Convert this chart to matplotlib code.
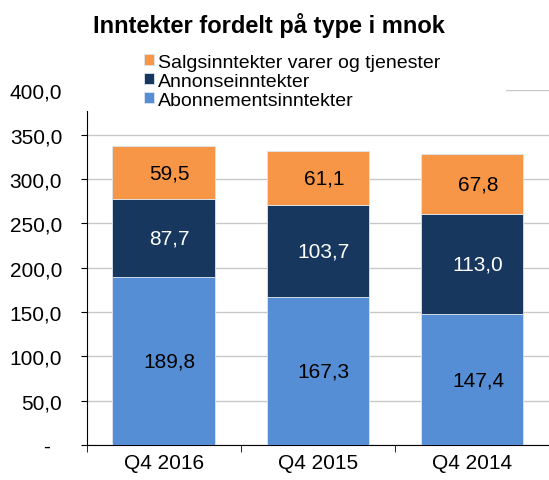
import matplotlib.pyplot as plt
from matplotlib.patches import Rectangle
import numpy as np

plt.rcParams['font.family'] = ['Liberation Sans', 'DejaVu Sans']

categories = ['Q4 2016', 'Q4 2015', 'Q4 2014']
abonnement = [189.8, 167.3, 147.4]
annonse = [87.7, 103.7, 113.0]
salg = [59.5, 61.1, 67.8]
series_names = ['Abonnementsinntekter', 'Annonseinntekter', 'Salgsinntekter varer og tjenester']
colors = ['#558ED5', '#17375E', '#F79646']
text_colors = ['black', 'white', 'black']

fig = plt.figure(figsize=(5.49, 4.81), dpi=100)
ax = fig.add_axes([0.1576, 0.0728, 0.8424, 0.7372])

x = np.arange(len(categories))
width = 0.665
bottoms = np.zeros(len(categories))
handles = []
for vals, name, col, tc in zip([abonnement, annonse, salg], series_names, colors, text_colors):
    bars = ax.bar(x, vals, width, bottom=bottoms, color=col, label=name,
                  edgecolor='#dde6f0', linewidth=0.6, zorder=3)
    handles.append(bars)
    for xi, b, v in zip(x, bottoms, vals):
        ax.text(xi + 0.04, b + v / 2, f'{v:.1f}'.replace('.', ','), ha='center', va='center',
                fontsize=15, color=tc, zorder=4)
    bottoms = bottoms + np.array(vals)

ax.set_ylim(0, 400)
ax.set_xlim(-0.5, 2.5)
yt = np.arange(0, 401, 50)
ax.set_yticks(yt)
ax.set_yticklabels(['-  '] + [f'{v:.1f}'.replace('.', ',') for v in yt[1:]], fontsize=15)
ax.yaxis.grid(True, color='#c8c8c8', linewidth=1, zorder=0)
ax.set_axisbelow(True)

ax.set_xticks(x)
ax.set_xticklabels(categories, fontsize=15)
ax.tick_params(axis='x', which='major', length=0, pad=6)
ax.set_xticks([-0.5, 0.5, 1.5, 2.5], minor=True)
ax.tick_params(axis='x', which='minor', length=5, color='black')
ax.tick_params(axis='y', length=4.5, pad=13)

for s in ['top', 'right']:
    ax.spines[s].set_visible(False)
ax.spines['left'].set_color('black')
ax.spines['bottom'].set_color('black')

# white area behind the legend, hiding the top of the plot like in the original
fig.patches.append(Rectangle((70 / 549, 1 - 112 / 481), 436 / 549, 70 / 481,
                             transform=fig.transFigure, facecolor='white',
                             edgecolor='none', zorder=4))

leg = fig.legend(handles=handles[::-1], labels=series_names[::-1], loc='upper left',
                 bbox_to_anchor=(0.262, 0.886), frameon=False, fontsize=14,
                 handlelength=0.5, handleheight=0.5, handletextpad=0.24,
                 labelspacing=0.1, borderpad=0, borderaxespad=0)
leg.set_zorder(6)

fig.text(0.489, 0.948, 'Inntekter fordelt på type i mnok', ha='center', va='center',
         fontsize=17, fontweight='bold')

fig.savefig('out.png', dpi=100)
